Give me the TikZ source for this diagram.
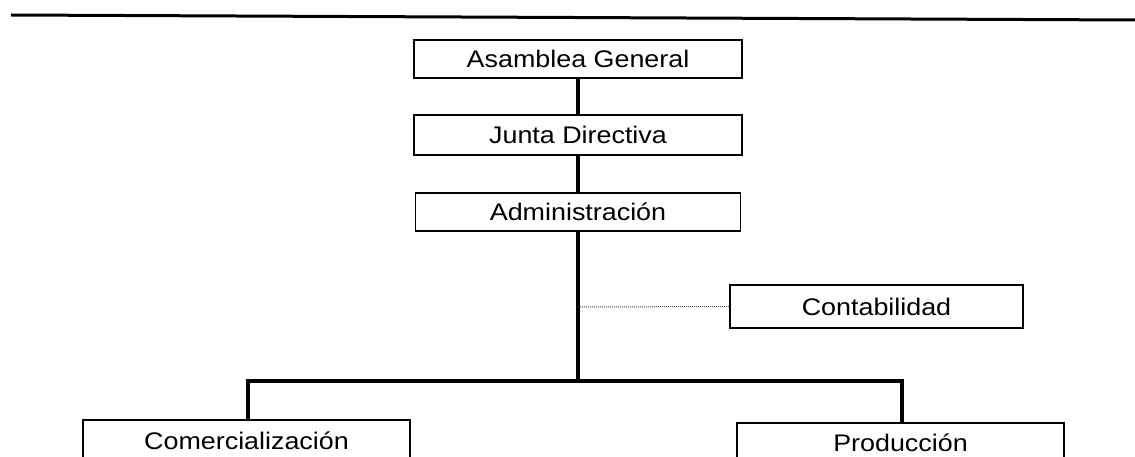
\documentclass[tikz,border=0pt]{standalone}
\usepackage{fontspec}
\setmainfont{Liberation Sans}[FakeStretch=1.12]
\begin{document}
\begin{tikzpicture}[x=1pt,y=-1pt,
  box/.style={draw=black,line width=1.2pt,fill=white,inner sep=0pt,font=\fontsize{24}{28}\selectfont},
  link/.style={line width=3.6pt,line cap=rect},
  aux/.style={draw=black!70,line width=1pt,densely dotted}]
\useasboundingbox (0,0) rectangle (1135,457);
\clip (0,0) rectangle (1135,457);
\fill[white] (0,0) rectangle (1135,457);
% top rule
\coordinate (r1) at (11,15);
\coordinate (r2) at (1135,20);
\draw[line width=3pt] (r1) -- (r2);
% nodes
\node[box,minimum width=328pt,minimum height=38pt] (asam) at (578,59) {Asamblea General};
\node[box,minimum width=328pt,minimum height=40pt] (junta) at (578,135) {Junta Directiva};
\node[box,minimum width=325pt,minimum height=38pt] (admin) at (578,212) {Administración};
\node[box,minimum width=293pt,minimum height=43pt] (cont) at (876.5,306.5) {Contabilidad};
\node[box,minimum width=327pt,minimum height=42pt] (com) at (246.5,441) {Comercialización};
\node[box,minimum width=327pt,minimum height=40pt] (prod) at (900.5,443) {Producción};
% connectors
\coordinate (branch) at (578,381);
\coordinate (bl) at (248,381);
\coordinate (br) at (902,381);
\coordinate (tap) at (578,307);
\draw[link,line cap=butt] (asam.south) -- (junta.north);
\draw[link,line cap=butt] (junta.south) -- (admin.north);
\draw[link,line cap=butt] (admin.south) -- (branch);
\draw[link] (bl) -- (br);
\draw[link,line cap=butt] (bl) -- (com.north -| bl);
\draw[link,line cap=butt] (br) -- (prod.north -| br);
\draw[aux] (tap) -- (cont.west);
\end{tikzpicture}
\end{document}
